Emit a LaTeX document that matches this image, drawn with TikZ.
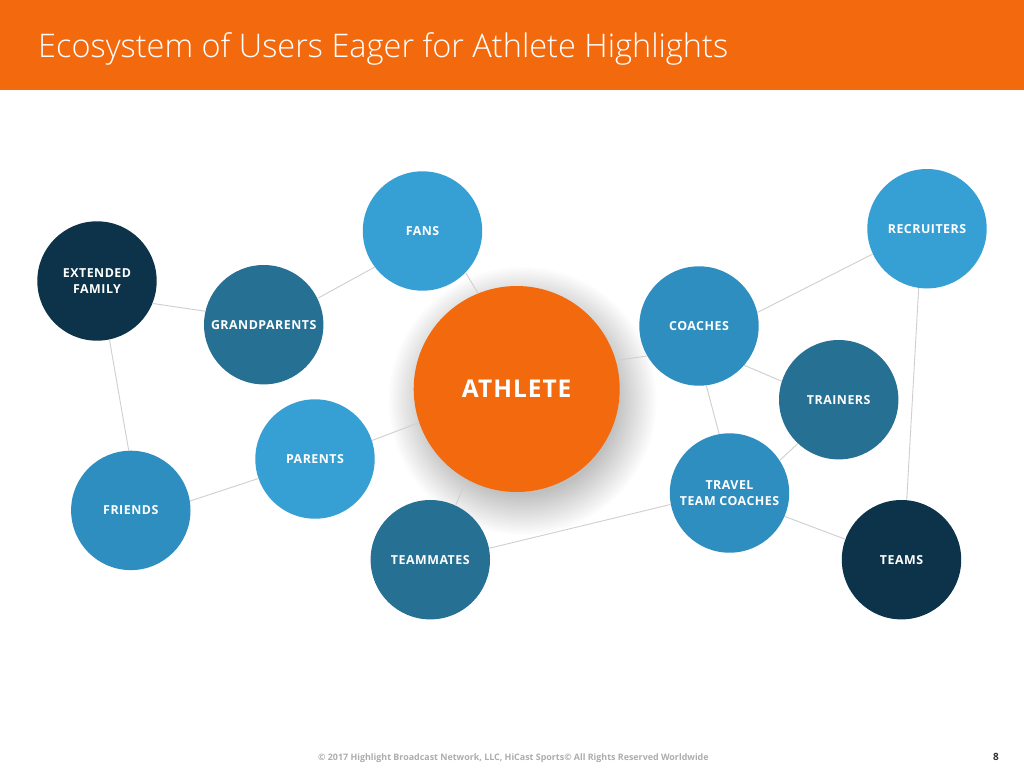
\documentclass[tikz,border=0pt]{standalone}
\usepackage{fontspec}
\setmainfont{Open Sans}
\newfontfamily\titlefont{Open Sans Light}
\newfontfamily\labelfont{Open Sans}[LetterSpace=4]

\definecolor{hcorange}{HTML}{F26A0D}
\definecolor{skyblue}{HTML}{36A0D5}
\definecolor{midblue}{HTML}{2D8EBF}
\definecolor{steelblue}{HTML}{267093}
\definecolor{navyblue}{HTML}{0C3349}
\definecolor{linkgray}{HTML}{CFCFCF}
\definecolor{footgray}{HTML}{ADADAD}

\tikzset{
  bubble/.style={circle, minimum size=119.4pt, inner sep=0pt, text=white,
    align=center, text depth=0pt,
    font=\labelfont\bfseries\fontsize{12.4}{16.7}\selectfont},
  link/.style={draw=linkgray, line width=0.9pt}
}

\begin{document}
\begin{tikzpicture}[x=1pt,y=-1pt]
% Page and header bar
\useasboundingbox (0,0) rectangle (1024,768);
\fill[white] (0,0) rectangle (1024,768);
\fill[hcorange] (0,0) rectangle (1024,90);
\node[anchor=base west, inner sep=0pt, text=white,
  font=\titlefont\fontsize{32.5}{40}\selectfont] (title) at (38,57)
  {Ecosystem of Users Eager for Athlete Highlights};

% Athlete in the middle, with a soft shadow
\coordinate (hub) at (516.7,389);
\foreach \r in {94,96,...,134}
  \fill[black, fill opacity=0.013] ([shift={(6,12)}]hub) circle (\r);
\node[circle, fill=hcorange, minimum size=206pt, inner sep=0pt, text=white,
  font=\labelfont\bfseries\fontsize{24.5}{30}\selectfont] (athlete) at (hub) {ATHLETE};

% Left side
\node[bubble, fill=navyblue] (extfamily) at (97,281) {EXTENDED\\FAMILY};
\node[bubble, fill=steelblue] (grandparents) at (263.7,324.7) {GRANDPARENTS};
\node[bubble, fill=skyblue] (fans) at (422.5,231) {FANS};
\node[bubble, fill=skyblue] (parents) at (315,459) {PARENTS};
\node[bubble, fill=midblue] (friends) at (130.8,510.4) {FRIENDS};
\node[bubble, fill=steelblue] (teammates) at (430.3,559.7) {TEAMMATES};

% Right side
\node[bubble, fill=midblue] (coaches) at (699,326) {COACHES};
\node[bubble, fill=skyblue] (recruiters) at (927,228.7) {RECRUITERS};
\node[bubble, fill=steelblue] (trainers) at (838.7,399.7) {TRAINERS};
\node[bubble, fill=midblue] (travel) at (729.5,493) {TRAVEL\\TEAM COACHES};
\node[bubble, fill=navyblue] (teams) at (901.5,559.7) {TEAMS};

% Links
\draw[link] (fans.-44) -- (athlete.112);
\draw[link] (fans.217) -- (grandparents.26);
\draw[link] (grandparents.167) -- (extfamily.-22);
\draw[link] (extfamily.-78) -- (friends.92);
\draw[link] (friends.9) -- (parents.199);
\draw[link] (parents.18) -- (athlete.199);
\draw[link] (athlete.241) -- (teammates.65);
\draw[link] (teammates.11) -- (travel.191);
\draw[link] (athlete.16) -- (coaches.210);
\draw[link] (coaches.13) -- (recruiters.205);
\draw[link] (coaches.-41) -- (trainers.162);
\draw[link] (coaches.-83) -- (travel.100);
\draw[link] (trainers.227) -- (travel.33);
\draw[link] (travel.-23) -- (teams.160);
\draw[link] (recruiters.-98) -- (teams.85);

% Footer
\node[anchor=base west, inner sep=0pt, text=footgray,
  font=\bfseries\fontsize{8.9}{10}\selectfont] (footer) at (318,760)
  {\textcopyright{} 2017 Highlight Broadcast Network, LLC, HiCast Sports\textcopyright{} All Rights Reserved Worldwide};
\node[anchor=base east, inner sep=0pt, text=black!80,
  font=\bfseries\fontsize{10}{12}\selectfont] (pagenum) at (999,760) {8};
\end{tikzpicture}
\end{document}
